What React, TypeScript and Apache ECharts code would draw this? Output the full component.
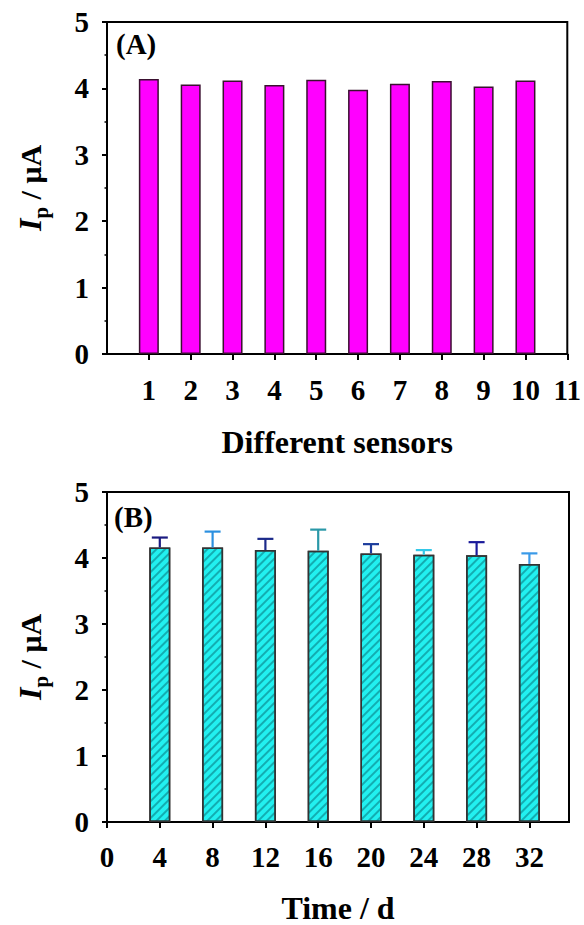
import React, { useEffect, useRef } from "react";
import * as echarts from "echarts";

// ---- data ----
const sensorIds = [1, 2, 3, 4, 5, 6, 7, 8, 9, 10];
const sensorCurrents = [4.14, 4.06, 4.12, 4.05, 4.13, 3.98, 4.07, 4.11, 4.03, 4.12];
const sensorTicks = [1, 2, 3, 4, 5, 6, 7, 8, 9, 10, 11];

const days = [4, 8, 12, 16, 20, 24, 28, 32];
const dayCurrents = [4.16, 4.16, 4.12, 4.11, 4.07, 4.05, 4.04, 3.91];
const dayErrors = [0.15, 0.24, 0.17, 0.32, 0.14, 0.07, 0.2, 0.16];
const errColors = ["#1a1a80", "#2b90e0", "#1c2a8a", "#2a98a8", "#1c3c9c", "#33c8e8", "#1a1a9a", "#3a9ae8"];
const dayTicks = [0, 4, 8, 12, 16, 20, 24, 28, 32];

const FONT = '"Liberation Serif", "Times New Roman", serif';

const axisLineStyle = { color: "#000", width: 2 };
const labelStyle = { fontSize: 29, fontWeight: "bold" as const, color: "#000", fontFamily: FONT };
const nameStyle = { fontSize: 32, fontWeight: "bold" as const, color: "#000", fontFamily: FONT };

function yAxisCfg(gridIndex: number) {
  return {
    gridIndex,
    type: "value",
    min: 0,
    max: 5,
    interval: 1,
    axisLine: { show: true, lineStyle: axisLineStyle },
    axisTick: { show: true, inside: false, length: 5, lineStyle: axisLineStyle },
    minorTick: { show: true, splitNumber: 2, length: 2.5, lineStyle: { color: "#000", width: 1.5 } },
    axisLabel: { ...labelStyle, margin: 18 },
    splitLine: { show: false },
    minorSplitLine: { show: false },
  };
}

function yName(y: number) {
  return {
    type: "text",
    x: 30,
    y,
    rotation: Math.PI / 2,
    style: {
      text: "{i|I}{p|p}{r| / μA}",
      textAlign: "center",
      textVerticalAlign: "middle",
      fill: "#000",
      rich: {
        i: { fontSize: 32, fontStyle: "italic", fontWeight: "bold", fontFamily: FONT, lineHeight: 42, verticalAlign: "middle", fill: "#000" },
        p: { fontSize: 21, fontWeight: "bold", fontFamily: FONT, verticalAlign: "bottom", fill: "#000" },
        r: { fontSize: 30, fontWeight: "bold", fontFamily: FONT, lineHeight: 42, verticalAlign: "middle", fill: "#000" },
      },
    },
  };
}

export default function App() {
  const ref = useRef<HTMLDivElement>(null);
  useEffect(() => {
    if (!ref.current) return;
    const chart = echarts.init(ref.current, null, { renderer: "svg" });
    const option: any = {
      animation: false,
      backgroundColor: "#fff",
      grid: [
        { left: 107, top: 22, width: 462, height: 332, show: true, borderColor: "#000", borderWidth: 2, backgroundColor: "transparent" },
        { left: 107, top: 492, width: 462, height: 331, show: true, borderColor: "#000", borderWidth: 2, backgroundColor: "transparent" },
      ],
      xAxis: [
        {
          gridIndex: 0,
          type: "value",
          min: 0,
          max: 11,
          interval: 1,
          axisLine: { show: true, lineStyle: axisLineStyle },
          axisTick: { show: true, inside: false, length: 6, lineStyle: axisLineStyle, customValues: sensorTicks },
          axisLabel: { ...labelStyle, margin: 21, customValues: sensorTicks },
          splitLine: { show: false },
          name: "Different sensors",
          nameLocation: "middle",
          nameGap: 72,
          nameTextStyle: nameStyle,
        },
        {
          gridIndex: 1,
          type: "value",
          min: 0,
          max: 35,
          interval: 4,
          axisLine: { show: true, lineStyle: axisLineStyle },
          axisTick: { show: true, inside: false, length: 6, lineStyle: axisLineStyle, customValues: dayTicks },
          axisLabel: { ...labelStyle, margin: 20, customValues: dayTicks },
          splitLine: { show: false },
          name: "Time / d",
          nameLocation: "middle",
          nameGap: 70,
          nameTextStyle: nameStyle,
        },
      ],
      yAxis: [yAxisCfg(0), yAxisCfg(1)],
      series: [
        {
          type: "bar",
          xAxisIndex: 0,
          yAxisIndex: 0,
          barWidth: 20,
          data: sensorIds.map((s, i) => [s, sensorCurrents[i]]),
          itemStyle: { color: "#ff00ff", borderColor: "#3a1030", borderWidth: 1.5 },
        },
        {
          type: "bar",
          xAxisIndex: 1,
          yAxisIndex: 1,
          barWidth: 21,
          data: days.map((d, i) => [d, dayCurrents[i]]),
          itemStyle: {
            color: "#22f0f0",
            borderColor: "#333",
            borderWidth: 1.5,
            decal: {
              symbol: "rect",
              symbolSize: 1,
              dashArrayX: [1, 0],
              dashArrayY: [1.2, 3.3],
              rotation: -Math.PI / 4,
              color: "rgba(0,90,100,0.45)",
            },
          },
        },
        {
          type: "custom",
          xAxisIndex: 1,
          yAxisIndex: 1,
          z: 5,
          encode: { x: 0, y: 1 },
          data: days.map((d, i) => [d, dayCurrents[i], dayErrors[i]]),
          renderItem: (params: any, api: any) => {
            const x = api.value(0);
            const y = api.value(1);
            const e = api.value(2);
            const base = api.coord([x, y]);
            const top = api.coord([x, y + e]);
            const c = errColors[params.dataIndex];
            const hw = 8;
            return {
              type: "group",
              children: [
                { type: "line", shape: { x1: base[0], y1: base[1], x2: top[0], y2: top[1] }, style: { stroke: c, lineWidth: 2.2 } },
                { type: "line", shape: { x1: top[0] - hw, y1: top[1], x2: top[0] + hw, y2: top[1] }, style: { stroke: c, lineWidth: 2.2 } },
              ],
            };
          },
        },
      ],
      graphic: [
        yName(188),
        yName(657),
        { type: "text", x: 116, y: 44, style: { text: "(A)", fontSize: 29, fontWeight: "bold", fontFamily: FONT, fill: "#000", textVerticalAlign: "middle" } },
        { type: "text", x: 114, y: 517, style: { text: "(B)", fontSize: 29, fontWeight: "bold", fontFamily: FONT, fill: "#000", textVerticalAlign: "middle" } },
      ],
    };
    chart.setOption(option);
    return () => chart.dispose();
  }, []);
  return <div ref={ref} style={{ position: "fixed", left: 0, top: 0, width: 584, height: 925 }} />;
}
